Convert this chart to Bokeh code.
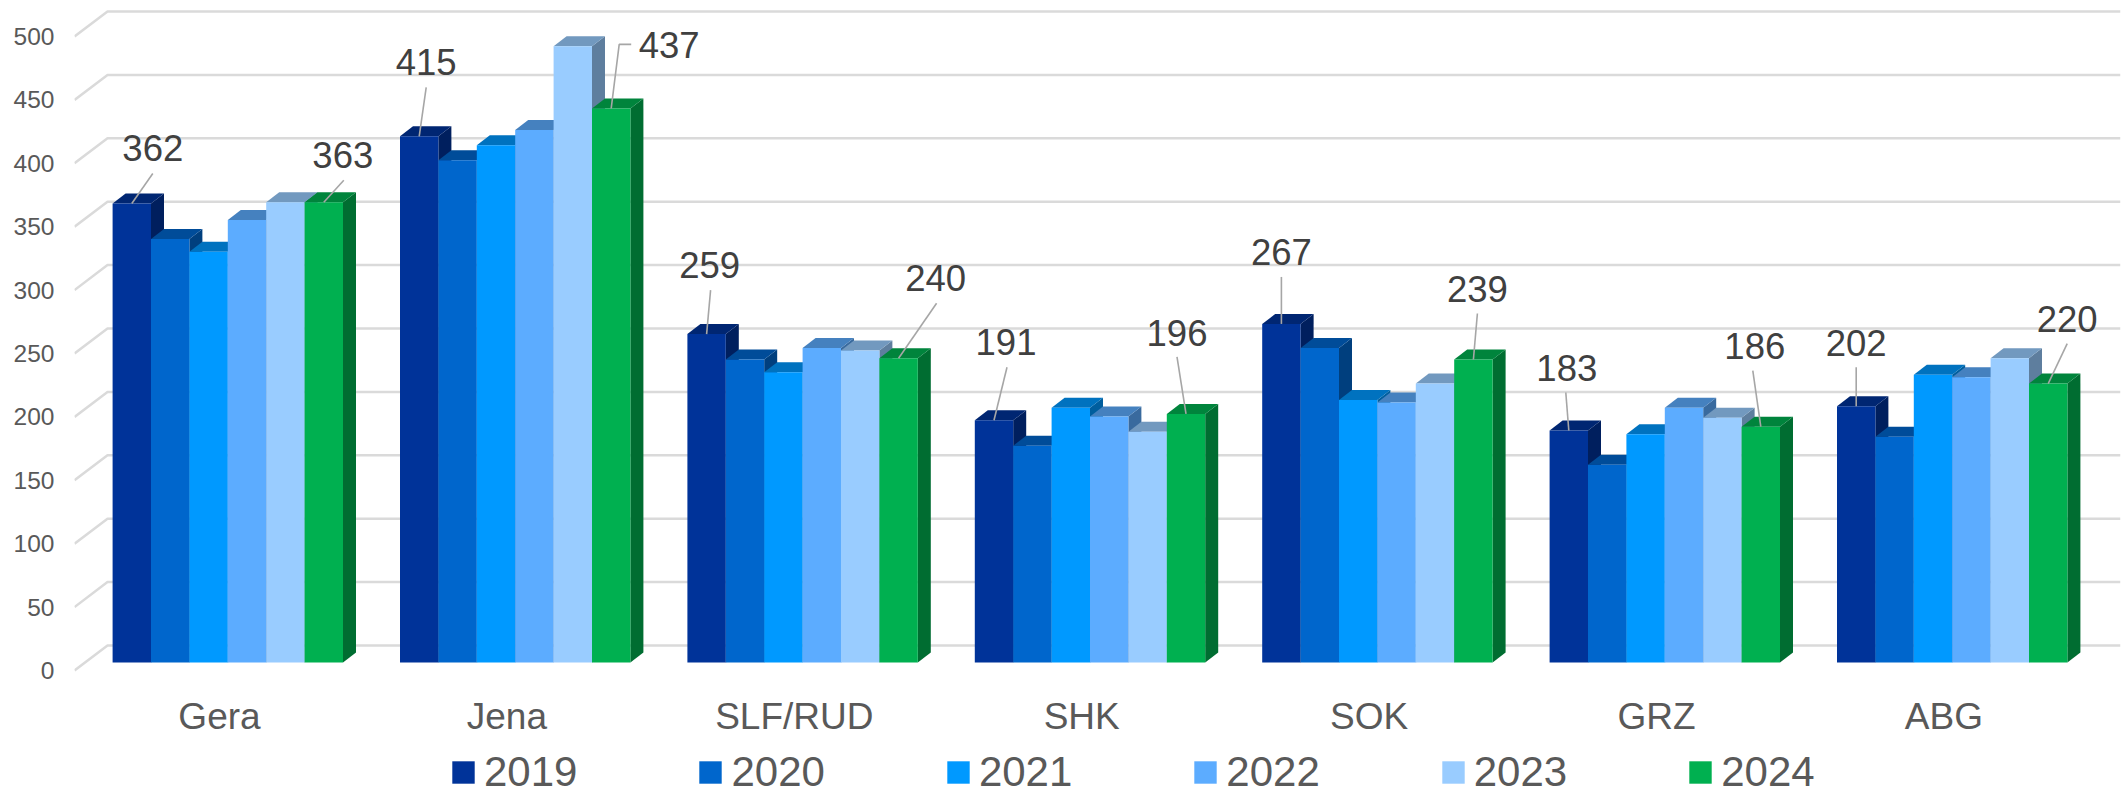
from bokeh.plotting import figure
from bokeh.embed import file_html
from bokeh.resources import INLINE
from bokeh.models import Range1d, LinearAxis, FixedTicker, Legend, LegendItem
from bokeh.core.properties import value

categories = ["Gera", "Jena", "SLF/RUD", "SHK", "SOK", "GRZ", "ABG"]
years = ["2019", "2020", "2021", "2022", "2023", "2024"]
v2019 = [362, 415, 259, 191, 267, 183, 202]
v2020 = [334, 396, 239, 171, 248, 156, 178]
v2021 = [324, 408, 229, 201, 207, 180, 227]
v2022 = [349, 420, 248, 194, 205, 201, 225]
v2023 = [363, 486, 246, 182, 220, 193, 240]
v2024 = [363, 437, 240, 196, 239, 186, 220]
series = [v2019, v2020, v2021, v2022, v2023, v2024]
colors = ["#003399", "#0066CC", "#0099FF", "#5CACFF", "#99CCFF", "#00B050"]
y_ticks = [0, 50, 100, 150, 200, 250, 300, 350, 400, 450, 500]

# callouts: group, series, label offset (px), leader bend/end offsets (px) from the bar's top centre
callouts = [
    (0, 0, (21, -55), [(21, -30)]),
    (0, 5, (19, -47), [(20, -22)]),
    (1, 0, (7, -74), [(7, -49)]),
    (1, 5, (58, -63), [(8, -64), (20, -64)]),
    (2, 0, (3, -69), [(4, -44)]),
    (2, 5, (37, -80), [(38, -55)]),
    (3, 0, (12, -78), [(13, -53)]),
    (3, 5, (-9, -81), [(-9, -57)]),
    (4, 0, (0, -72), [(0, -47)]),
    (4, 5, (4, -70), [(4, -46)]),
    (5, 0, (-2, -62), [(-3, -38)]),
    (5, 5, (-6, -81), [(-8, -56)]),
    (6, 0, (0, -63), [(0, -39)]),
    (6, 5, (19, -65), [(19, -40)]),
]

FONT = "Liberation Sans"
PX_X = 287.4     # px per category
PX_Y = 1.268     # px per value unit
X0_PX = 219.0    # page px of first category centre
BAR_W = 38.4 / PX_X
GROUP_SHIFT = 8.3 / PX_X
DEPTH_X, DEPTH_Y = 13 / PX_X, 10 / PX_Y
WALL_X, WALL_Y = 33 / PX_X, 25 / PX_Y
FRAME_L, FRAME_R, FRAME_T, FRAME_B = 74, 2120, 8, 796
AXIS_ZERO, BAR_BASE = 670, 662   # page px of zero on the axis plane and on the bars' plane
WIDTH, HEIGHT = 2121, 796


def shade(col, f):
    r, g, b = int(col[1:3], 16), int(col[3:5], 16), int(col[5:7], 16)
    return "#%02X%02X%02X" % (int(r * f), int(g * f), int(b * f))


x_start = (FRAME_L - X0_PX) / PX_X
x_end = (FRAME_R - X0_PX) / PX_X
p = figure(
    output_backend="svg", toolbar_location=None,
    width=WIDTH, height=HEIGHT,
    min_border_left=FRAME_L, min_border_top=FRAME_T,
    min_border_right=WIDTH - FRAME_R, min_border_bottom=0,
    x_range=Range1d(x_start, x_end),
    y_range=Range1d((BAR_BASE - FRAME_B) / PX_Y, (BAR_BASE - FRAME_T) / PX_Y),
    y_axis_location=None, outline_line_color=None,
)
p.grid.visible = False
p.background_fill_color = "white"

# value axis sits on the front plane of the floor, below the bars' plane
p.extra_y_ranges["axis"] = Range1d((AXIS_ZERO - FRAME_B) / PX_Y, (AXIS_ZERO - FRAME_T) / PX_Y)
ya = LinearAxis(y_range_name="axis", ticker=FixedTicker(ticks=y_ticks))
ya.axis_line_color = None
ya.major_tick_line_color = None
ya.minor_tick_line_color = None
ya.major_label_text_font = FONT
ya.major_label_text_font_size = "24.5px"
ya.major_label_text_color = "#595959"
ya.major_label_standoff = 14
p.add_layout(ya, "left")

axis_plane = (BAR_BASE - AXIS_ZERO) / PX_Y
xa = p.xaxis[0]
xa.fixed_location = axis_plane
xa.ticker = FixedTicker(ticks=list(range(len(categories))))
xa.major_label_overrides = {i: c for i, c in enumerate(categories)}
xa.axis_line_color = None
xa.major_tick_line_color = None
xa.minor_tick_line_color = None
xa.major_label_text_font = FONT
xa.major_label_text_font_size = "37px"
xa.major_label_text_color = "#595959"
xa.major_label_standoff = 19

# gridlines: side wall diagonal, then back wall
grid_xs, grid_ys = [], []
for t in y_ticks:
    grid_xs.append([x_start, x_start + WALL_X, x_end])
    grid_ys.append([t + axis_plane, t + axis_plane + WALL_Y, t + axis_plane + WALL_Y])
p.multi_line(grid_xs, grid_ys, line_color="#DADADA", line_width=2.5)


def bar_center(g, s):
    return g + GROUP_SHIFT + (s - 2.5) * BAR_W


items = []
for s, (vals, col) in enumerate(zip(series, colors)):
    left = [bar_center(g, s) - BAR_W / 2 for g in range(len(vals))]
    right = [bar_center(g, s) + BAR_W / 2 for g in range(len(vals))]
    p.patches(
        [[r, r, r + DEPTH_X, r + DEPTH_X] for r in right],
        [[0, v, v + DEPTH_Y, DEPTH_Y] for v in vals],
        fill_color=shade(col, 0.62), line_color=None,
    )
    p.patches(
        [[l, r, r + DEPTH_X, l + DEPTH_X] for l, r in zip(left, right)],
        [[v, v, v + DEPTH_Y, v + DEPTH_Y] for v in vals],
        fill_color=shade(col, 0.75), line_color=None,
    )
    front = p.quad(left=left, right=right, bottom=0, top=vals, fill_color=col, line_color=None)
    items.append(LegendItem(label=value(years[s]), renderers=[front]))

lx, ly, lt, lead_x, lead_y = [], [], [], [], []
for g, s, (dx, dy), pts in callouts:
    cx, v = bar_center(g, s), series[s][g]
    lx.append(cx + dx / PX_X)
    ly.append(v - dy / PX_Y)
    lt.append(str(v))
    lead_x.append([cx] + [cx + a / PX_X for a, _ in pts])
    lead_y.append([v] + [v - b / PX_Y for _, b in pts])
p.multi_line(lead_x, lead_y, line_color="#A6A6A6", line_width=1.6)
p.text(lx, ly, text=lt, text_align="center", text_baseline="middle",
       text_font=value(FONT), text_font_size=value("36.5px"), text_color="#404040")

legend = Legend(
    items=items, orientation="horizontal", location=(375, 0),
    glyph_width=28, glyph_height=28, label_standoff=7, spacing=119,
    padding=0, margin=0, border_line_color=None, background_fill_alpha=0,
    label_text_font=FONT, label_text_font_size="42px", label_text_color="#595959",
)
p.add_layout(legend)

open("out.html", "w").write(file_html(p, INLINE))
